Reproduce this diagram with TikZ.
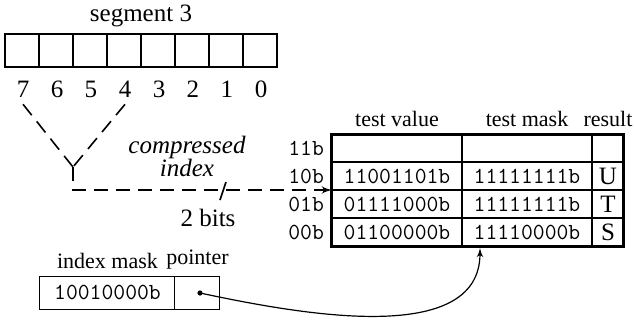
\documentclass[tikz,border=0pt]{standalone}
\usepackage{fontspec}
\setmainfont{Liberation Serif}
\usetikzlibrary{arrows,positioning}

\begin{document}
\begin{tikzpicture}[x=0.5pt,y=-0.5pt,>=latex',node distance=17pt]
        \tikzstyle{every node}=[font=\fontsize{11}{13}\selectfont]
        \tikzstyle{big}=[font=\fontsize{12.5}{11.5}\selectfont]
        \tikzstyle{slanted}=[font=\fontsize{12.5}{11.5}\selectfont\itshape,align=center]
        \tikzstyle{mono}=[font=\fontsize{11.5}{13}\ttfamily]
        \tikzstyle{bitcell}=[draw,line width=1pt,minimum width=17pt,minimum height=16.5pt,inner sep=0pt]
        \tikzstyle{tcell}=[draw,line width=0.6pt,minimum height=14pt,inner sep=0pt,outer sep=0pt,mono]
        \tikzstyle{dashline}=[dash pattern=on 7pt off 4pt,line width=0.8pt]

        \useasboundingbox (0,0) rectangle (634,323);

        % the segment and its bits
        \node[big] (seg) at (141,16) {segment 3};
        \foreach \i [count=\k from 0] in {7,...,0} {
            \node[bitcell] (c\i) at (22+34*\k,50.5) {};
            \node[big] (b\i) at (23+34*\k,89) {\i};
        }

        % the table
        \foreach \r/\tv/\tm/\res [count=\k from 0] in {11/{}/{}/{},10/11001101b/11111111b/U,01/01111000b/11111111b/T,00/01100000b/11110000b/S} {
            \node[tcell,minimum width=65pt] (v\r) at (397,148+28*\k) {\tv};
            \node[tcell,minimum width=65pt,right=0pt of v\r] (m\r) {\tm};
            \node[tcell,minimum width=16pt,right=0pt of m\r,big] (s\r) {\res};
            \node[mono,left=0.5pt of v\r] (l\r) {\r b};
        }
        \draw[line width=1.5pt] (v11.north west) rectangle (s00.south east);
        \node (hv) [above=0pt of v11] {test value};
        \node (hm) [above=0pt of m11] {test mask};
        \node (hr) [above=0pt of s11] {result};

        % compressed index
        \coordinate (Y) at (73,167);
        \draw[dashline] (b7.south) -- (Y);
        \draw[dashline] (b4.south) -- (Y);
        \draw[dashline,->] (Y) -- (Y |- v10.south west) -- (v10.south west);
        \coordinate (sl) at (223,191);
        \draw[line width=0.8pt] ([shift={(-3,9)}]sl) -- ([shift={(3,-9)}]sl);
        \node[slanted] (ci) at (187,156) {compressed\\index};
        \node[big] (nb) at (208,218) {2 bits};

        % index mask and pointer
        \node[draw,line width=0.5pt,minimum width=67.5pt,minimum height=16.5pt,inner sep=0pt,outer sep=0pt,mono] (imask) at (107.5,292.5) {10010000b};
        \node[draw,line width=0.5pt,minimum width=22.5pt,minimum height=16.5pt,inner sep=0pt,outer sep=0pt,right=0pt of imask] (ptr) {};
        \node (limask) [above=0pt of imask] {index mask};
        \node (lptr) [above=0pt of ptr] {pointer};
        \coordinate (dot) at (200,293);
        \coordinate (tgt) at (480,248);
        \fill (dot) circle (1.3pt);
        \draw[->,line width=0.6pt] (dot) to[out=-12,in=-90,looseness=0.9] (tgt);
    \end{tikzpicture}
\end{document}
